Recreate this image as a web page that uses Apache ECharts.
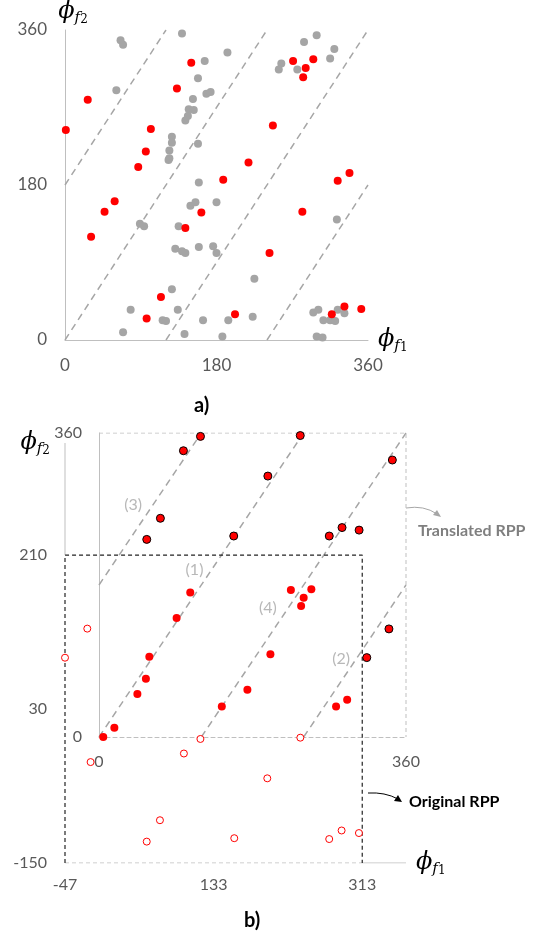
<!DOCTYPE html>
<html>
<head>
<meta charset="utf-8">
<script src="https://cdn.jsdelivr.net/npm/echarts@6/dist/echarts.min.js"></script>
<style>
  html, body { margin: 0; padding: 0; background: #fff; }
  #chart { width: 548px; height: 938px; }
</style>
</head>
<body>
<div id="chart"></div>
<script>
// ---- a) phase points, [phi_f1, phi_f2] in degrees
var topGray = [
  [66,348],[69,343],[139,356],[193,334],[166,324],[158,304],[61,290],[168,286],[173,288],
  [152,280],[147,268],[153,267],[146,260],[143,255],[127,236],[127,229],[158,228],[124,220],
  [123,209],[124,211],[159,183],[299,354],[284,346],[320,338],[257,321],[254,314],[276,314],
  [315,327],[149,156],[155,160],[180,160],[89,135],[94,132],[135,132],[131,106],[139,103],
  [143,101],[159,108],[176,109],[180,101],[225,71],[127,59],[78,35],[134,35],[116,23],
  [120,22],[164,23],[194,23],[223,27],[69,9],[142,7],[187,4],[323,140],[295,32],[301,35],
  [324,35],[332,31],[307,23],[315,23],[321,22],[299,4],[306,3]
];
var topRed = [
  [150,322],[133,292],[27,279],[1,244],[102,245],[247,249],[96,219],[87,201],[218,206],
  [188,186],[271,324],[295,326],[286,316],[283,305],[324,185],[338,194],[59,161],[47,149],
  [31,120],[162,148],[143,130],[243,101],[114,50],[97,25],[202,30],[282,149],[332,39],
  [352,36],[317,30]
];
// guide lines phi_f2 = 1.5 * phi_f1 + c, clipped to the 0..360 square
var guideLines = [
  [[0,180],[120,360]],
  [[0,0],[240,360]],
  [[120,0],[360,360]],
  [[240,0],[360,180]]
];
var topTicks = [0, 180, 360];

// ---- b) translated RPP (0..360)
var bFilled = [
  [107,171],[91,141],[59,95],[55,69],[45,51],[18,11],[5,0],[201,98],[174,56],[144,36],
  [225,174],[249,175],[240,165],[237,155],[278,36],[291,44]
];
var bShifted = [
  [119,356],[99,339],[198,309],[72,259],[56,234],[158,238],[236,357],[344,328],[270,238],
  [285,248],[305,245],[314,94],[340,128]
];
var lineTags = ['(1)', '(2)', '(3)', '(4)'];
var lineTagPos = [[112,198],[284,93],[40,275],[198,153]];
var transTicks = [0, 360];
// ---- b) original RPP (-47..313, -150..210)
var bHollow = [
  [-20,124],[-47,90],[117,-5],[238,-3.5],[97,-22],[-16,-32],[198,-51],[68,-100],[52,-125],
  [158,-121],[273,-122],[288,-112],[309,-115]
];
var origXTicks = [-47, 133, 313];
var origYTicks = [-150, 30, 210];

var GRAY_AX = '#bfbfbf';
var LBL = '#595959';
var FONT = 'Lato';

function phiName(n) { return '{p|ϕ}{s|f}{n|' + n + '}'; }
var phiRich = {
  p: { fontFamily: 'DejaVu Serif', fontStyle: 'italic', fontSize: 24, color: '#000' },
  s: { fontFamily: 'DejaVu Serif', fontStyle: 'italic', fontSize: 15, color: '#000', padding: [12, 0, 0, 0] },
  n: { fontFamily: 'DejaVu Serif', fontSize: 12, color: '#000', padding: [16, 0, 0, 0] }
};

function seg(xi, yi, pts, color, width, dash, z) {
  return {
    type: 'line', xAxisIndex: xi, yAxisIndex: yi, data: pts, showSymbol: false, silent: true,
    lineStyle: { color: color, width: width, type: dash }, z: z || 1, animation: false
  };
}

var series = [];
guideLines.forEach(function (l) { series.push(seg(0, 0, l, '#a6a6a6', 1.5, [7, 5])); });
guideLines.forEach(function (l) { series.push(seg(1, 1, l, '#a6a6a6', 1.5, [7, 5])); });
// translated RPP frame (top / right)
series.push(seg(1, 1, [[0,360],[360,360],[360,0]], '#bfbfbf', 1, [4, 3]));
// original RPP frame
series.push(seg(2, 2, [[-47,210],[-47,341]], GRAY_AX, 1, 'solid'));
series.push(seg(2, 2, [[-47,-150],[313,-150]], '#bfbfbf', 1, [4, 3]));
series.push(seg(2, 2, [[313,-150],[366,-150]], GRAY_AX, 1, 'solid'));
series.push(seg(2, 2, [[-47,-150],[-47,210],[313,210],[313,-150]], '#222', 1.2, [4, 3], 2));

series.push({ type: 'scatter', xAxisIndex: 0, yAxisIndex: 0, data: topGray, symbolSize: 8,
  itemStyle: { color: '#a5a5a5', opacity: 1 }, z: 3 });
series.push({ type: 'scatter', xAxisIndex: 0, yAxisIndex: 0, data: topRed, symbolSize: 8,
  itemStyle: { color: '#ff0000', opacity: 1 }, z: 4 });
series.push({ type: 'scatter', xAxisIndex: 1, yAxisIndex: 1, data: bFilled, symbolSize: 8,
  itemStyle: { color: '#ff0000', opacity: 1 }, z: 4 });
series.push({ type: 'scatter', xAxisIndex: 1, yAxisIndex: 1, data: bShifted, symbolSize: 8,
  itemStyle: { color: '#ff0000', borderColor: '#000', borderWidth: 1, opacity: 1 }, z: 4 });
series.push({ type: 'scatter', xAxisIndex: 2, yAxisIndex: 2, data: bHollow, symbolSize: 7,
  itemStyle: { color: '#fff', borderColor: '#ff0000', borderWidth: 1, opacity: 1 }, z: 4 });
// line tags
series.push({ type: 'scatter', xAxisIndex: 1, yAxisIndex: 1, symbolSize: 0, silent: true,
  data: lineTagPos.map(function (p, i) { return { value: p, name: lineTags[i] }; }),
  label: { show: true, formatter: '{b}', color: '#a6a6a6', fontSize: 16, fontFamily: FONT },
  z: 5 });

var hidden = { show: false };
var option = {
  animation: false,
  grid: [
    { left: 65, top: 30, width: 303, height: 310 },
    { left: 99, top: 433, width: 307, height: 304 },
    { left: 65, top: 443, width: 341, height: 420 }
  ],
  xAxis: [
    { gridIndex: 0, type: 'value', min: 0, max: 360, interval: 180,
      axisLine: { onZero: false, lineStyle: { color: GRAY_AX } }, axisTick: hidden, splitLine: hidden,
      axisLabel: { color: LBL, fontSize: 17, fontFamily: FONT, margin: 17 },
      name: phiName(1), nameLocation: 'end', nameGap: 10,
      nameTextStyle: { rich: phiRich, verticalAlign: 'middle', padding: [0, 0, 0, 0] } },
    { gridIndex: 1, type: 'value', min: 0, max: 360, interval: 360,
      axisLine: { onZero: false, lineStyle: { color: '#bfbfbf', type: [4, 3] } }, axisTick: hidden, splitLine: hidden,
      axisLabel: { color: LBL, fontSize: 16, fontFamily: FONT, margin: 17 } },
    { gridIndex: 2, type: 'value', min: -47, max: 366,
      axisLine: { show: false, onZero: false }, axisTick: hidden, splitLine: hidden,
      axisLabel: { color: LBL, fontSize: 16, fontFamily: FONT, margin: 14, customValues: origXTicks },
      name: phiName(1), nameLocation: 'end', nameGap: 10,
      nameTextStyle: { rich: phiRich, verticalAlign: 'middle' } }
  ],
  yAxis: [
    { gridIndex: 0, type: 'value', min: 0, max: 360, interval: 180,
      axisLine: { show: true, onZero: false, lineStyle: { color: GRAY_AX } }, axisTick: hidden, splitLine: hidden,
      axisLabel: { color: LBL, fontSize: 17, fontFamily: FONT, margin: 18 },
      name: phiName(2), nameLocation: 'end', nameGap: 4,
      nameTextStyle: { rich: phiRich, align: 'center', padding: [0, 0, 0, 16] } },
    { gridIndex: 1, type: 'value', min: 0, max: 360, interval: 360,
      axisLine: { show: true, onZero: false, lineStyle: { color: GRAY_AX } }, axisTick: hidden, splitLine: hidden,
      axisLabel: { color: LBL, fontSize: 16, fontFamily: FONT, margin: 17 } },
    { gridIndex: 2, type: 'value', min: -150, max: 341,
      axisLine: { show: false, onZero: false }, axisTick: hidden, splitLine: hidden,
      axisLabel: { color: LBL, fontSize: 16, fontFamily: FONT, margin: 18, customValues: origYTicks },
      name: phiName(2), nameLocation: 'end', nameGap: 0,
      nameTextStyle: { rich: phiRich, align: 'right', verticalAlign: 'middle', padding: [0, 15, 0, 0] } }
  ],
  graphic: [
    { type: 'text', left: 194, top: 396, style: { text: 'a)', fontSize: 20, fontWeight: 'bold', fontFamily: FONT, fill: '#000' } },
    { type: 'text', left: 244, top: 911, style: { text: 'b)', fontSize: 20, fontWeight: 'bold', fontFamily: FONT, fill: '#000' } },
    { type: 'text', left: 418, top: 523, style: { text: 'Translated RPP', fontSize: 16, fontWeight: 'bold', fontFamily: FONT, fill: '#7f7f7f' } },
    { type: 'text', left: 409, top: 794, style: { text: 'Original RPP', fontSize: 16, fontWeight: 'bold', fontFamily: FONT, fill: '#000' } },
    { type: 'bezierCurve', shape: { x1: 406, y1: 508, cpx1: 424, cpy1: 505, x2: 437, y2: 514 },
      style: { stroke: '#a6a6a6', lineWidth: 1, fill: null } },
    { type: 'polygon', shape: { points: [[441, 517], [433, 515], [437, 510]] }, style: { fill: '#a6a6a6' } },
    { type: 'bezierCurve', shape: { x1: 368, y1: 793, cpx1: 385, cpy1: 792, x2: 398, y2: 799 },
      style: { stroke: '#000', lineWidth: 1, fill: null } },
    { type: 'polygon', shape: { points: [[402, 802], [394, 801], [398, 795]] }, style: { fill: '#000' } }
  ],
  series: series
};

var chart = echarts.init(document.getElementById('chart'), null, { renderer: 'canvas' });
chart.setOption(option);
</script>
</body>
</html>
